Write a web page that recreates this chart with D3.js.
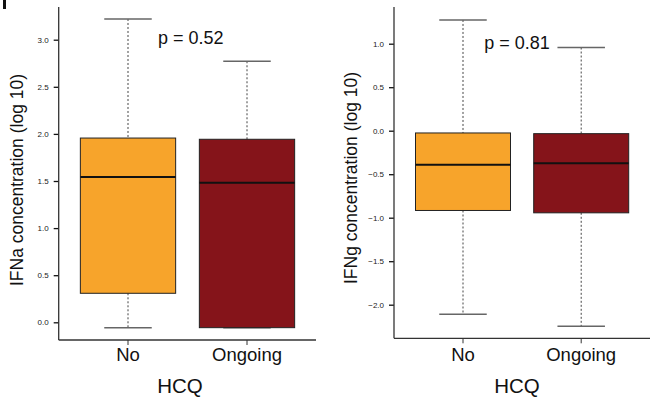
<!DOCTYPE html>
<html><head><meta charset="utf-8">
<script src="https://cdn.jsdelivr.net/npm/d3@7"></script>
<style>body{margin:0;background:#fff}svg{display:block}text{font-family:"Liberation Sans",Arial,sans-serif}</style>
</head><body><svg id="c" width="656" height="401"></svg>
<script>
const categories = ["No", "Ongoing"];
const colors = ["#F7A42B", "#85141A"];
// panel A: IFNa
const ifnaStats = [
  {lo: -0.057, q1: 0.308, med: 1.542, q3: 1.956, hi: 3.22},
  {lo: -0.057, q1: -0.057, med: 1.482, q3: 1.943, hi: 2.771}
];
const ifnaTicks = [0.0, 0.5, 1.0, 1.5, 2.0, 2.5, 3.0];
// panel B: IFNg
const ifngStats = [
  {lo: -2.11, q1: -0.917, med: -0.39, q3: -0.026, hi: 1.273},
  {lo: -2.248, q1: -0.944, med: -0.374, q3: -0.034, hi: 0.956}
];
const ifngTicks = [-2.0, -1.5, -1.0, -0.5, 0.0, 0.5, 1.0];
const pLabels = ["p = 0.52", "p = 0.81"];
const yTitles = ["IFNa concentration (log 10)", "IFNg concentration (log 10)"];
const xTitle = "HCQ";

const svg = d3.select("#c");
svg.append("rect").attr("x",3).attr("y",0).attr("width",3).attr("height",9).attr("fill","#111");

const panels = [
  {stats: ifnaStats, ticks: ifnaTicks, axisX: 58.7, axisTop: 7, axisBottom: 340, xEnd: 316,
   y0: 322.3, yTopVal: 3.0, yTopPx: 39.7, centers: [128, 247], boxW: 95.3, capW: 47.5,
   pX: 158, pY: 44, yLabelX: 23, yLabelY: 180, xTitleX: 180},
  {stats: ifngStats, ticks: ifngTicks, axisX: 394, axisTop: 7, axisBottom: 338.3, xEnd: 650,
   y0: 130.7, yTopVal: 1.0, yTopPx: 43.7, centers: [463, 581.2], boxW: 95, capW: 47.5,
   pX: 484.3, pY: 48.5, yLabelX: 357, yLabelY: 178, xTitleX: 517}
];

panels.forEach((p, pi) => {
  const g = svg.append("g");
  const y = d3.scaleLinear().domain([0, p.yTopVal]).range([p.y0, p.yTopPx]);
  const x = d3.scaleOrdinal().domain(categories).range(p.centers);

  // y axis
  const yAxis = d3.axisLeft(y).tickValues(p.ticks).tickSize(5).tickSizeOuter(0)
    .tickFormat(d => d3.format(".1f")(d).replace("-", "\u2212"));
  const ya = g.append("g").attr("transform", `translate(${p.axisX},0)`).call(yAxis);
  ya.select(".domain").remove();
  ya.selectAll(".tick line").attr("stroke", "#111").attr("stroke-width", 1.3);
  ya.selectAll(".tick text").attr("font-size", 8).attr("fill", "#222").attr("x", -10);
  g.append("line").attr("x1", p.axisX).attr("x2", p.axisX).attr("y1", p.axisTop).attr("y2", p.axisBottom)
    .attr("stroke", "#333").attr("stroke-width", 1.3);
  g.append("line").attr("x1", p.axisX).attr("x2", p.xEnd).attr("y1", p.axisBottom).attr("y2", p.axisBottom)
    .attr("stroke", "#333").attr("stroke-width", 1.3);

  // x ticks
  categories.forEach(c => {
    g.append("line").attr("x1", x(c)).attr("x2", x(c)).attr("y1", p.axisBottom).attr("y2", p.axisBottom + 5)
      .attr("stroke", "#333").attr("stroke-width", 1);
    g.append("text").attr("x", x(c)).attr("y", 361).attr("text-anchor", "middle")
      .attr("font-size", 18.5).attr("fill", "#111").text(c);
  });

  // boxes
  p.stats.forEach((s, i) => {
    const cx = x(categories[i]);
    g.append("line").attr("x1", cx).attr("x2", cx).attr("y1", y(s.hi)).attr("y2", y(s.q3))
      .attr("stroke", "#444").attr("stroke-width", 1).attr("stroke-dasharray", "2,2");
    g.append("line").attr("x1", cx).attr("x2", cx).attr("y1", y(s.q1)).attr("y2", y(s.lo))
      .attr("stroke", "#444").attr("stroke-width", 1).attr("stroke-dasharray", "2,2");
    g.append("line").attr("x1", cx - p.capW/2).attr("x2", cx + p.capW/2).attr("y1", y(s.hi)).attr("y2", y(s.hi))
      .attr("stroke", "#666").attr("stroke-width", 1.5);
    g.append("line").attr("x1", cx - p.capW/2).attr("x2", cx + p.capW/2).attr("y1", y(s.lo)).attr("y2", y(s.lo))
      .attr("stroke", "#666").attr("stroke-width", 1.5);
    g.append("rect").attr("x", cx - p.boxW/2).attr("width", p.boxW)
      .attr("y", y(s.q3)).attr("height", y(s.q1) - y(s.q3))
      .attr("fill", colors[i]).attr("stroke", "#222").attr("stroke-width", 1);
    g.append("line").attr("x1", cx - p.boxW/2).attr("x2", cx + p.boxW/2).attr("y1", y(s.med)).attr("y2", y(s.med))
      .attr("stroke", "#111").attr("stroke-width", 2);
  });

  g.append("text").attr("x", p.pX).attr("y", p.pY).attr("font-size", 18).attr("fill", "#111").text(pLabels[pi]);
  g.append("text").attr("transform", `translate(${p.yLabelX},${p.yLabelY}) rotate(-90)`)
    .attr("text-anchor", "middle").attr("font-size", 17.5).attr("fill", "#111").text(yTitles[pi]);
  g.append("text").attr("x", p.xTitleX).attr("y", 393).attr("text-anchor", "middle")
    .attr("font-size", 20.5).attr("fill", "#111").text(xTitle);
});
</script></body></html>
